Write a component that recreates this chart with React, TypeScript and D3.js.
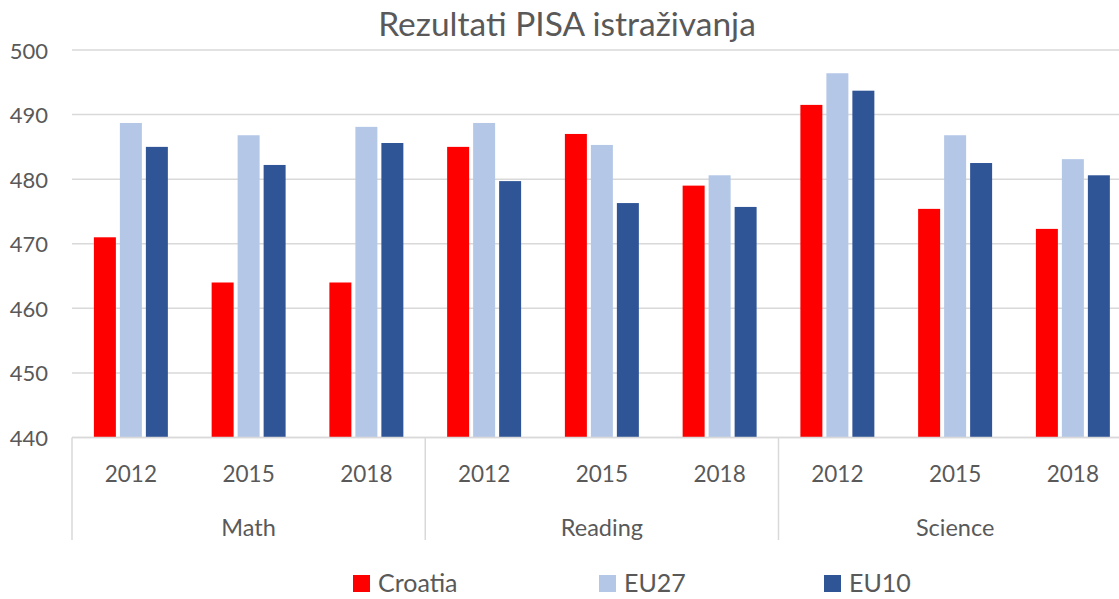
import React, { useEffect, useRef } from "react";
import * as d3 from "d3";

const subjects = ["Math", "Reading", "Science"];
const years = ["2012", "2015", "2018"];
const seriesNames = ["Croatia", "EU27", "EU10"];
const croatia = [471, 464, 464, 485, 487, 479, 491.5, 475.4, 472.3];
const eu27 = [488.7, 486.8, 488.1, 488.7, 485.3, 480.6, 496.4, 486.8, 483.1];
const eu10 = [485.0, 482.2, 485.6, 479.7, 476.3, 475.7, 493.7, 482.5, 480.6];
const yTicks = [440, 450, 460, 470, 480, 490, 500];
const colors = ["#FF0000", "#B4C7E7", "#2F5597"];

export default function App() {
  const ref = useRef<SVGSVGElement>(null);
  useEffect(() => {
    document.body.style.margin = "0";
    const svg = d3.select(ref.current);
    svg.selectAll("*").remove();
    const W = 1119, H = 599;
    const left = 72, bandStep = 117.75;
    const right = left + bandStep * 9;
    const top = 50, bottom = 437.5;
    const font = "Lato, 'Open Sans', sans-serif";
    const textColor = "#595959";
    const gridColor = "#D9D9D9";

    const cats = d3.range(9).map(String);
    const x = d3.scaleBand<string>().domain(cats).range([left, right]).paddingInner(0).paddingOuter(0);
    const xs = d3.scaleBand<string>().domain(seriesNames).range([0, x.bandwidth()]).paddingInner(0.154).paddingOuter(0.842);
    const y = d3.scaleLinear().domain([440, 500]).range([bottom, top]);

    svg.attr("width", W).attr("height", H).style("background", "#fff");

    // title
    svg.append("text").attr("x", 567).attr("y", 36).attr("text-anchor", "middle")
      .attr("font-family", font).attr("font-size", 33.5).attr("fill", textColor)
      .text("Rezultati PISA istraživanja");

    // gridlines
    svg.append("g").selectAll("line").data(yTicks).join("line")
      .attr("x1", left).attr("x2", right)
      .attr("y1", (d) => y(d)).attr("y2", (d) => y(d))
      .attr("stroke", gridColor).attr("stroke-width", 1.5);

    // y labels
    svg.append("g").selectAll("text").data(yTicks).join("text")
      .attr("x", 48).attr("y", (d) => y(d)).attr("text-anchor", "end")
      .attr("dominant-baseline", "central")
      .attr("font-family", font).attr("font-size", 22).attr("fill", textColor)
      .text((d) => String(d));

    // bars
    const all = [croatia, eu27, eu10];
    all.forEach((vals, si) => {
      svg.append("g").selectAll("rect").data(vals).join("rect")
        .attr("x", (_d, i) => (x(String(i)) as number) + (xs(seriesNames[si]) as number))
        .attr("width", xs.bandwidth())
        .attr("y", (d) => y(d))
        .attr("height", (d) => bottom - y(d))
        .attr("fill", colors[si]);
    });

    // axis line
    svg.append("line").attr("x1", left).attr("x2", right).attr("y1", bottom).attr("y2", bottom)
      .attr("stroke", gridColor).attr("stroke-width", 1.5);
    // dividers
    const divs = [0, 3, 6, 9].map((k) => left + k * bandStep);
    svg.append("g").selectAll("line").data(divs).join("line")
      .attr("x1", (d) => d).attr("x2", (d) => d).attr("y1", bottom).attr("y2", 540)
      .attr("stroke", gridColor).attr("stroke-width", 1.5);

    // year labels
    svg.append("g").selectAll("text").data(cats).join("text")
      .attr("x", (d) => (x(d) as number) + x.bandwidth() / 2).attr("y", 473)
      .attr("text-anchor", "middle").attr("dominant-baseline", "central")
      .attr("font-family", font).attr("font-size", 22.5).attr("fill", textColor)
      .text((d) => years[+d % 3]);

    // subject labels
    svg.append("g").selectAll("text").data(subjects).join("text")
      .attr("x", (_d, i) => left + (i * 3 + 1.5) * bandStep).attr("y", 527)
      .attr("text-anchor", "middle").attr("dominant-baseline", "central")
      .attr("font-family", font).attr("font-size", 23.5).attr("fill", textColor)
      .text((d) => d);

    // legend
    const legX = [353, 599, 824];
    const lg = svg.append("g");
    seriesNames.forEach((name, i) => {
      lg.append("rect").attr("x", legX[i]).attr("y", 575).attr("width", 17).attr("height", 17).attr("fill", colors[i]);
      lg.append("text").attr("x", legX[i] + 25).attr("y", 592)
        .attr("font-family", font).attr("font-size", 25).attr("fill", textColor).text(name);
    });
  }, []);
  return <svg ref={ref} style={{ position: "absolute", left: 0, top: 0, display: "block" }} />;
}
